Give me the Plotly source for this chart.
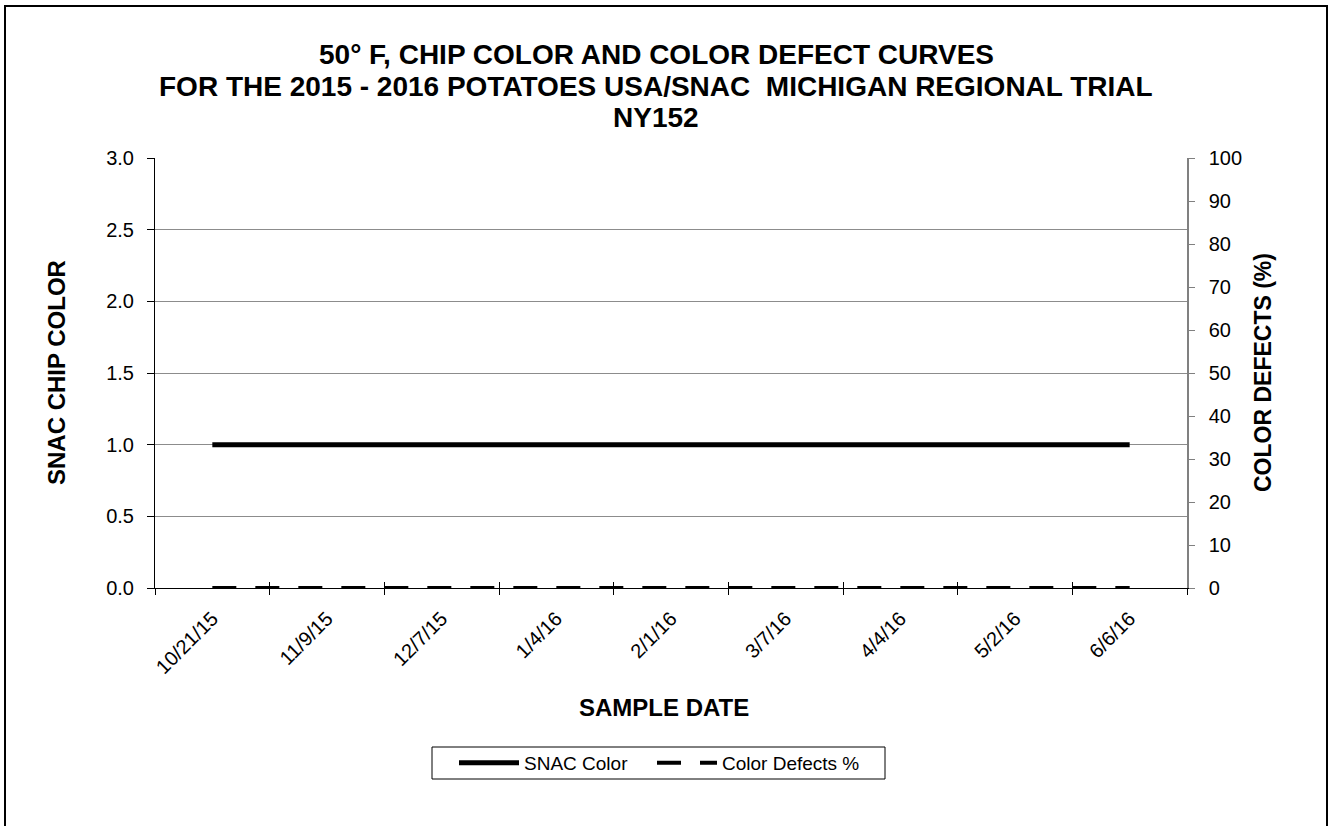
import plotly.graph_objects as go

sample_dates = ["10/21/15", "11/9/15", "12/7/15", "1/4/16", "2/1/16",
                "3/7/16", "4/4/16", "5/2/16", "6/6/16"]
snac_color = [1.0, 1.0, 1.0, 1.0, 1.0, 1.0, 1.0, 1.0, 1.0]
color_defects_pct = [0, 0, 0, 0, 0, 0, 0, 0, 0]

title_lines = ["50° F, CHIP COLOR AND COLOR DEFECT CURVES",
               "FOR THE 2015 - 2016 POTATOES USA/SNAC  MICHIGAN REGIONAL TRIAL",
               "NY152"]

FONT = "Arial, Liberation Sans, sans-serif"
W, H = 1331, 826
L, R, T, B = 155, 144, 158, 238
pw, ph = W - L - R, H - T - B


def px_x(x):
    return (x - L) / pw


def px_y(y):
    return (H - B - y) / ph


fig = go.Figure()
fig.add_trace(go.Scatter(
    x=sample_dates, y=snac_color, name="SNAC Color", mode="lines",
    line=dict(color="black", width=5), xaxis="x", yaxis="y", legend="legend"))
fig.add_trace(go.Scatter(
    x=sample_dates, y=color_defects_pct, name="Color Defects %", mode="lines",
    line=dict(color="black", width=4, dash="24px,19px"), xaxis="x", yaxis="y2",
    legend="legend2"))
# carrier trace so the overlay axis (inside ticks) is drawn
fig.add_trace(go.Scatter(x=sample_dates, y=[None] * len(sample_dates),
                         xaxis="x2", yaxis="y", showlegend=False,
                         hoverinfo="skip", mode="lines"))

legend_common = dict(orientation="h", xanchor="left", yanchor="middle",
                     borderwidth=0, bgcolor="rgba(0,0,0,0)",
                     font=dict(size=19), itemwidth=60)

fig.update_layout(
    width=W, height=H,
    margin=dict(l=L, r=R, t=T, b=B, autoexpand=False),
    paper_bgcolor="white", plot_bgcolor="white",
    font=dict(family=FONT, color="black", size=20),
    xaxis=dict(
        type="category", categoryorder="array", categoryarray=sample_dates,
        range=[-0.5, len(sample_dates) - 0.5],
        showline=True, linecolor="black", linewidth=1,
        ticks="outside", tickson="boundaries", ticklen=6, tickcolor="black",
        tickangle=-45, tickfont=dict(size=20), ticklabelstandoff=10,
        showgrid=False, zeroline=False),
    xaxis2=dict(
        type="category", categoryorder="array", categoryarray=sample_dates,
        range=[-0.5, len(sample_dates) - 0.5], overlaying="x",
        showline=False, ticks="inside", tickson="boundaries", ticklen=6,
        tickcolor="black", showticklabels=False, showgrid=False, zeroline=False,
        anchor="y"),
    yaxis=dict(
        range=[0, 3], dtick=0.5, tickformat=".1f",
        showline=True, linecolor="black", linewidth=1,
        ticks="outside", ticklen=7, tickcolor="black",
        showgrid=True, gridcolor="#8c8c8c", gridwidth=1,
        zeroline=False, tickfont=dict(size=20), ticklabelstandoff=9),
    yaxis2=dict(
        range=[0, 100], dtick=10, overlaying="y", side="right",
        showline=True, linecolor="#808080", linewidth=1.5,
        ticks="outside", ticklen=6, tickcolor="#808080",
        showgrid=False, zeroline=False, tickfont=dict(size=20),
        ticklabelstandoff=10),
    showlegend=True,
    legend=dict(x=px_x(454), y=px_y(763), **legend_common),
    legend2=dict(x=px_x(652), y=px_y(763), **legend_common),
)

for txt, yc in zip(title_lines, [54, 86, 117]):
    fig.add_annotation(text=txt, xref="paper", yref="paper",
                       x=px_x(656), y=px_y(yc), showarrow=False,
                       xanchor="center", yanchor="middle",
                       font=dict(size=28, weight="bold"))

fig.add_annotation(text="SAMPLE DATE", xref="paper", yref="paper",
                   x=px_x(664), y=px_y(707), showarrow=False,
                   xanchor="center", yanchor="middle",
                   font=dict(size=24, weight="bold"))
fig.add_annotation(text="SNAC CHIP COLOR", xref="paper", yref="paper",
                   x=px_x(56), y=px_y(373), showarrow=False, textangle=-90,
                   xanchor="center", yanchor="middle",
                   font=dict(size=24, weight="bold"))
fig.add_annotation(text="COLOR DEFECTS (%)", xref="paper", yref="paper",
                   x=px_x(1263), y=px_y(373), showarrow=False, textangle=-90,
                   xanchor="center", yanchor="middle",
                   font=dict(size=23, weight="bold"))

# legend frame
fig.add_shape(type="rect", xref="paper", yref="paper",
              x0=px_x(432), x1=px_x(885), y0=px_y(779), y1=px_y(747),
              line=dict(color="black", width=1), fillcolor="white", layer="below")
# outer chart frame
fig.add_shape(type="rect", xref="paper", yref="paper",
              x0=px_x(5), x1=px_x(1327), y0=px_y(840), y1=px_y(6),
              line=dict(color="black", width=2), fillcolor="rgba(0,0,0,0)",
              layer="below")

fig.write_html("out.html", config={"displayModeBar": False},
               post_script="document.body.style.margin='0';document.body.style.overflow='hidden';")
